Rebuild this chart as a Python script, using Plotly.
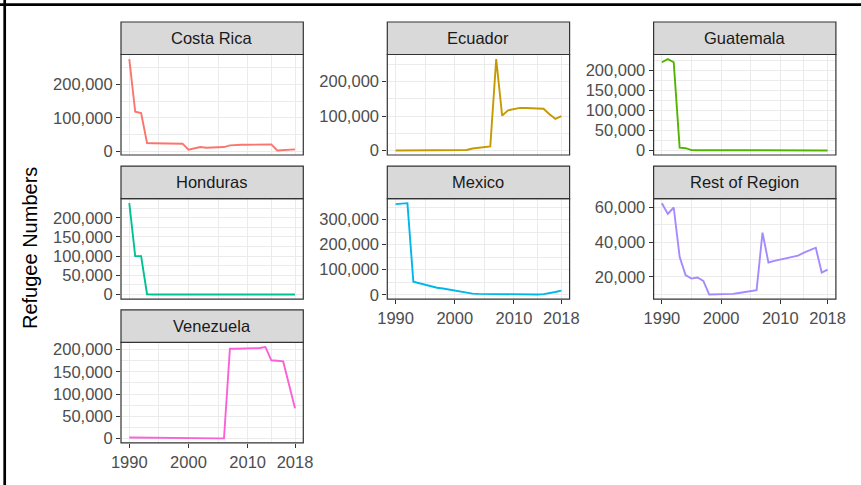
import plotly.graph_objects as go

W, H = 861, 485

years = list(range(1990, 2019))
countries = ["Costa Rica", "Ecuador", "Guatemala", "Honduras", "Mexico", "Rest of Region", "Venezuela"]
colors = ["#F8766D", "#C49A00", "#53B400", "#00C094", "#00B6EB", "#A58AFF", "#FB61D7"]

costa_rica = [275000, 118000, 114000, 25000, 24500, 24000, 23500, 23000, 23000, 23000,
              5000, 9000, 13000, 11000, 11000, 12000, 13000, 18000, 19500, 20000,
              20000, 20500, 21000, 21000, 21000, 3000, 3500, 4000, 6000]
ecuador = [300, 300, 300, 300, 300, 300, 300, 300, 300, 300,
           390, 500, 1500, 6000, 8000, 10000, 12000, 265000, 101000, 116500,
           121000, 123500, 123400, 123000, 123000, 121000, 105000, 92000, 100000]
guatemala = [221000, 229000, 221000, 7500, 6000, 1200, 1000, 1000, 1000, 1000,
             1000, 1000, 1000, 1000, 400, 400, 400, 400, 400, 400,
             400, 400, 400, 400, 400, 400, 400, 400, 400]
honduras = [238000, 100000, 100000, 800, 100, 100, 100, 100, 100, 100,
            100, 100, 100, 100, 100, 100, 100, 100, 100, 100,
            100, 100, 100, 100, 100, 100, 100, 100, 100]
mexico = [362000, 364000, 366000, 52000, 46000, 37000, 33000, 28000, 25000, 21000,
          17000, 12000, 8000, 4500, 3500, 3000, 2000, 1500, 1000, 800,
          800, 800, 800, 800, 1000, 2500, 6000, 11000, 16500]
rest_of_region = [62500, 56300, 60000, 31600, 21000, 19000, 19600, 17700, 9800, 9800,
                  9800, 9800, 10200, 10700, 11200, 11800, 12300, 45500, 28300, 29200,
                  30000, 30700, 31400, 32200, 34000, 35500, 36800, 22500, 24200]
venezuela = [2300, 2100, 1900, 1700, 1500, 1000, 500, 400, 300, 300,
             300, 300, 300, 300, 300, 300, 300, 202000, 202000, 202500,
             202500, 203000, 203600, 206000, 176000, 175000, 173500, 121000, 68000]

series = [costa_rica, ecuador, guatemala, honduras, mexico, rest_of_region, venezuela]

y_breaks = [
    [0, 100000, 200000],
    [0, 100000, 200000],
    [0, 50000, 100000, 150000, 200000],
    [0, 50000, 100000, 150000, 200000],
    [0, 100000, 200000, 300000],
    [20000, 40000, 60000],
    [0, 50000, 100000, 150000, 200000],
]
x_breaks = [1990, 2000, 2010, 2018]
x_labels = ["1990", "2000", "2010", "2018"]
x_minor = [1995, 2005, 2014]

FONT = "Liberation Sans, Arial, sans-serif"
col_left = [121.0, 387.3, 653.6]
panel_w = 182.3
row_top = [54.5, 198.6, 342.4]
panel_h = 100.5
strip_h = 32.5

xmin, xmax = min(years), max(years)
xpad = 0.05 * (xmax - xmin)

fig = go.Figure()
layout = dict(
    width=W, height=H,
    margin=dict(l=0, r=0, t=0, b=0, pad=0, autoexpand=False),
    paper_bgcolor="white", plot_bgcolor="white",
    showlegend=False,
    font=dict(family=FONT),
)
shapes = []
annotations = []

def px_x(p):
    return p / W

def px_y(p):
    return 1 - p / H

for i, (name, vals, col) in enumerate(zip(countries, series, colors)):
    n = i + 1
    r, c = divmod(i, 3)
    l = col_left[c]
    t = row_top[r]
    sfx = "" if n == 1 else str(n)
    fig.add_trace(go.Scatter(x=years, y=vals, mode="lines",
                             line=dict(color=col, width=1.9),
                             xaxis="x" + sfx, yaxis="y" + sfx,
                             hoverinfo="x+y"))
    show_x = i >= 4
    ymin, ymax = min(vals), max(vals)
    ypad = 0.05 * (ymax - ymin)
    yb = y_breaks[i]
    step = yb[1] - yb[0]
    yminor = [yb[0] - step / 2] + [b + step / 2 for b in yb]
    layout["xaxis" + sfx] = dict(
        domain=[px_x(l), px_x(l + panel_w)], anchor="y" + sfx,
        range=[xmin - xpad, xmax + xpad], automargin=False,
        tickmode="array", tickvals=x_breaks, ticktext=x_labels,
        showticklabels=show_x, ticks="outside" if show_x else "",
        ticklen=4, tickwidth=1.1, tickcolor="#333333",
        tickfont=dict(family=FONT, size=16.5, color="#4D4D4D"),
        showgrid=True, gridcolor="#EBEBEB", gridwidth=1.3,
        minor=dict(tickmode="array", tickvals=x_minor, showgrid=True,
                   gridcolor="#EBEBEB", gridwidth=0.7, ticks=""),
        zeroline=False, showline=False, fixedrange=True,
    )
    layout["yaxis" + sfx] = dict(
        domain=[px_y(t + panel_h), px_y(t)], anchor="x" + sfx,
        range=[ymin - ypad, ymax + ypad], automargin=False,
        tickmode="array", tickvals=yb, ticktext=[f"{v:,}" for v in yb],
        ticks="outside", ticklen=4, tickwidth=1.1, tickcolor="#333333",
        tickfont=dict(family=FONT, size=16.5, color="#4D4D4D"),
        showgrid=True, gridcolor="#EBEBEB", gridwidth=1.3,
        minor=dict(tickmode="array", tickvals=yminor, showgrid=True,
                   gridcolor="#EBEBEB", gridwidth=0.7, ticks=""),
        zeroline=False, showline=False, fixedrange=True,
    )
    shapes.append(dict(type="rect", xref="paper", yref="paper",
                       x0=px_x(l), x1=px_x(l + panel_w),
                       y0=px_y(t + panel_h), y1=px_y(t),
                       line=dict(color="#333333", width=1.2), fillcolor="rgba(0,0,0,0)",
                       layer="above"))
    shapes.append(dict(type="rect", xref="paper", yref="paper",
                       x0=px_x(l), x1=px_x(l + panel_w),
                       y0=px_y(t), y1=px_y(t - strip_h),
                       line=dict(color="#333333", width=1.2), fillcolor="#D9D9D9",
                       layer="above"))
    annotations.append(dict(text=name, xref="paper", yref="paper",
                            x=px_x(l + panel_w / 2), y=px_y(t - strip_h / 2),
                            xanchor="center", yanchor="middle", showarrow=False,
                            font=dict(family=FONT, size=16.5, color="#1A1A1A")))

annotations.append(dict(text="Refugee Numbers", xref="paper", yref="paper",
                        x=px_x(30), y=px_y(248), textangle=-90,
                        xanchor="center", yanchor="middle", showarrow=False,
                        font=dict(family=FONT, size=20, color="black")))

shapes.append(dict(type="line", xref="paper", yref="paper",
                   x0=0, x1=1, y0=px_y(4.7), y1=px_y(4.7),
                   line=dict(color="black", width=2.7)))
shapes.append(dict(type="line", xref="paper", yref="paper",
                   x0=px_x(4.7), x1=px_x(4.7), y0=0, y1=1,
                   line=dict(color="black", width=2.7)))

layout["shapes"] = shapes
layout["annotations"] = annotations
fig.update_layout(**layout)
fig.write_html("out.html",
               config={"displayModeBar": False},
               post_script="document.body.style.margin='0';document.body.style.overflow='hidden';")
